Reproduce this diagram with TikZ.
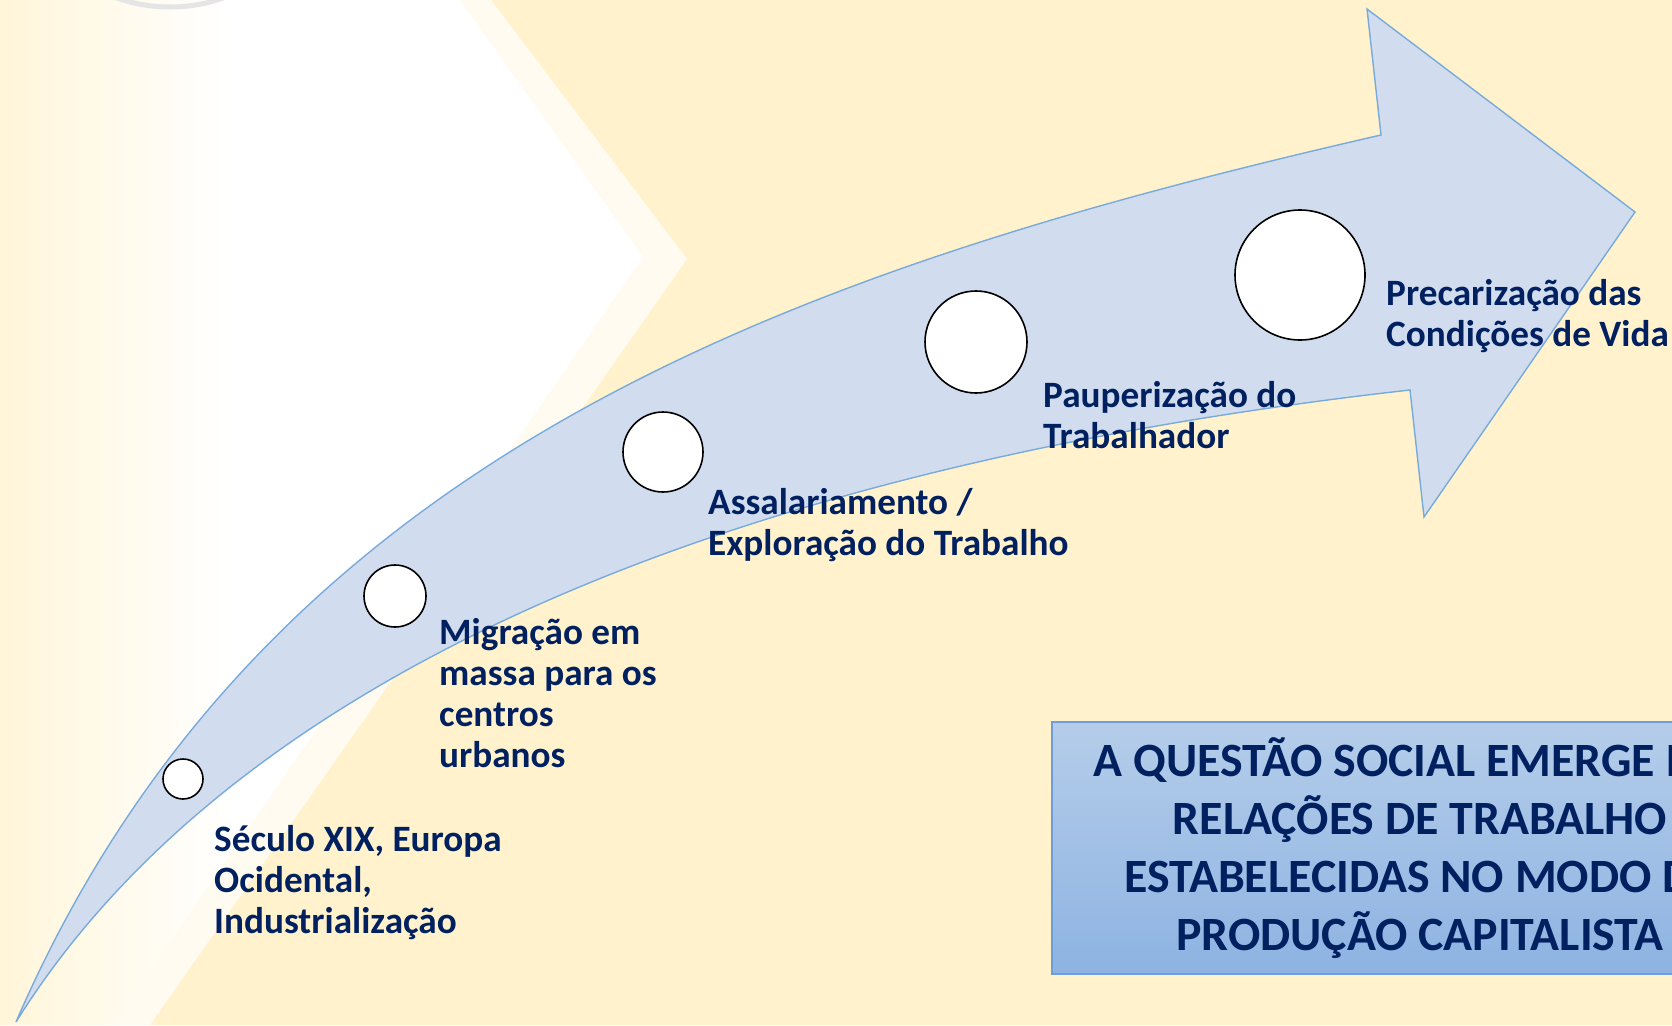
\documentclass[tikz,border=0pt]{standalone}
\usepackage{fontspec}
\setmainfont{Carlito}
\usepackage{tikz}
\usetikzlibrary{positioning}

\definecolor{bgcream}{HTML}{FFF2CC}
\definecolor{navy}{HTML}{002060}
\definecolor{arrowfill}{HTML}{D1DDEF}
\definecolor{arrowline}{HTML}{78AADB}
\definecolor{boxtop}{HTML}{B5CDEA}
\definecolor{boxbottom}{HTML}{8DB3E2}
\definecolor{boxline}{HTML}{6D9EDA}

\tikzset{
  dot/.style={circle,draw=black,fill=white,line width=1.6pt,inner sep=0pt},
  steplabel/.style={anchor=base west,align=left,inner sep=0pt,text=navy,font=\bfseries\fontsize{37.2}{40.7}\selectfont},
  claim/.style={draw=boxline,line width=1.2pt,top color=boxtop,bottom color=boxbottom,align=center,text=navy,
    font=\bfseries\fontsize{47.8}{58}\selectfont,minimum width=736pt,minimum height=252pt,inner sep=0pt}
}

\begin{document}
\begin{tikzpicture}[x=1pt,y=-1pt]
\useasboundingbox (0,0) rectangle (1672,1025);
\clip (0,0) rectangle (1672,1025);
\fill [bgcream] (0,0) rectangle (1672,1025);
\fill [bgcream!30!white] (0,0) -- (491,0) -- (687,259) -- (150,1025) -- (0,1025) -- cycle;
\begin{scope}
  \clip (0,0) -- (460,0) -- (643,257) -- (112,1025) -- (0,1025) -- cycle;
  \fill [white] (0,0) rectangle (700,1025);
  \shade [left color=bgcream!75!white,right color=white] (0,0) rectangle (230,1025);
\end{scope}
\draw [black!10] [line width=5pt] (170,-154) circle (161);

\draw [arrowline] [fill=arrowfill,line width=1.4pt,line join=miter]
  (16,1022) .. controls (262,453) and (796,269) .. (1381,135)
  -- (1367,9) -- (1635,212) -- (1424,517) -- (1410,390)
  .. controls (714,468) and (228,682) .. (16,1022) -- cycle;

  \node [dot,minimum size=40pt] (C1) at (183,779) {};
  \node [dot,minimum size=62pt] (C2) at (395,596) {};
  \node [dot,minimum size=80pt] (C3) at (663,452) {};
  \node [dot,minimum size=102pt] (C4) at (976,342) {};
  \node [dot,minimum size=130pt] (C5) at (1300,275) {};

  \node [steplabel] (L1) at (214,933) {Século XIX, Europa\\Ocidental,\\Industrialização};
  \node [steplabel] (L2) at (439,767) {Migração em\\massa para os\\centros\\urbanos};
  \node [steplabel] (L3) at (708,555) {Assalariamento /\\Exploração do Trabalho};
  \node [steplabel] (L4) at (1043,448) {Pauperização do\\Trabalhador};
  \node [steplabel] (L5) at (1386,346) {Precarização das\\Condições de Vida};

  \node [claim] (Q) at (1420,848) {A QUESTÃO SOCIAL EMERGE DAS\\RELAÇÕES DE TRABALHO\\ESTABELECIDAS NO MODO DE\\PRODUÇÃO CAPITALISTA};
\end{tikzpicture}
\end{document}
